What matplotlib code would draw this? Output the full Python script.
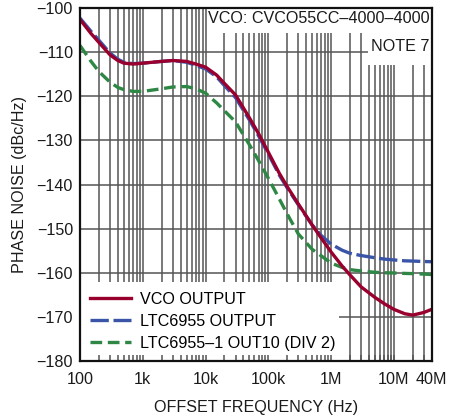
import matplotlib
matplotlib.use("Agg")
import matplotlib.pyplot as plt
from matplotlib.patches import Rectangle
from matplotlib.ticker import LogLocator, NullFormatter

plt.rcParams['font.family'] = ['Liberation Sans', 'DejaVu Sans']

# offset frequency (Hz)
freq = [100, 150, 200, 300, 400, 500, 700, 1e3, 2e3, 3e3, 5e3, 7e3, 1e4, 1.5e4, 2e4,
        3e4, 5e4, 7e4, 1e5, 1.5e5, 2e5, 3e5, 5e5, 7e5, 1e6, 1.5e6, 2e6, 3e6, 5e6,
        7e6, 1e7, 1.5e7, 2e7, 3e7, 4e7]

# phase noise (dBc/Hz)
vco_out = [-102.6, -105.8, -107.8, -110.6, -111.9, -112.5, -112.7, -112.5, -112.1,
           -111.9, -112.1, -112.7, -113.4, -115.2, -117.1, -119.7, -124.9, -128.5,
           -132.7, -137.5, -140.5, -144.4, -149.2, -152.2, -155.3, -158.5, -160.5,
           -163.2, -165.6, -167.0, -168.3, -169.3, -169.6, -169.0, -168.3]
ltc6955_out = [-102.3, -105.3, -107.3, -110.2, -111.6, -112.3, -112.6, -112.5, -112.1,
               -111.9, -112.3, -113.0, -113.8, -115.6, -117.6, -120.3, -125.4, -129.0,
               -133.1, -137.9, -140.8, -144.6, -149.2, -151.6, -153.5, -154.9, -155.6,
               -156.1, -156.6, -156.9, -157.1, -157.3, -157.35, -157.45, -157.5]
ltc6955_1_div2 = [-108.5, -112.1, -114.4, -116.8, -118.0, -118.5, -118.9, -118.9, -118.3,
                  -117.9, -117.8, -118.3, -119.3, -121.5, -123.3, -125.8, -131.0, -134.6,
                  -138.6, -143.3, -146.7, -151.2, -154.7, -156.2, -157.8, -158.8, -159.3,
                  -159.6, -159.9, -160.0, -160.05, -160.15, -160.2, -160.3, -160.4]

xticks = [100, 1e3, 1e4, 1e5, 1e6, 1e7, 4e7]
xticklabels = ['100', '1k', '10k', '100k', '1M', '10M', '40M']
yticks = list(range(-180, -99, 10))

fs = 11.6
txt_col = '#1a1a1a'

fig = plt.figure(figsize=(4.5, 4.19), dpi=100)
pos = [80 / 450, 1 - 361 / 419, (431.7 - 80) / 450, (361 - 8) / 419]
ax = fig.add_axes(pos)

ax.set_xscale('log')
ax.set_xlim(100, 4e7)
ax.set_ylim(-180, -100)

grid_col = '#555555'
ax.grid(True, which='both', axis='x', color=grid_col, linewidth=1.1)
ax.grid(True, which='major', axis='y', color=grid_col, linewidth=1.1)
ax.xaxis.set_minor_locator(LogLocator(base=10, subs=range(2, 10), numticks=20))
ax.xaxis.set_minor_formatter(NullFormatter())
ax.set_xticks(xticks)
ax.set_xticklabels(xticklabels)
ax.set_yticks(yticks)
ax.tick_params(which='both', length=0, labelsize=fs, colors=txt_col)
ax.tick_params(axis='x', pad=8)
ax.tick_params(axis='y', pad=5)
for s in ax.spines.values():
    s.set_visible(False)

# white boxes over the grid
ax.add_patch(Rectangle((0, 0), 0.736, 0.225, transform=ax.transAxes,
                       facecolor='white', edgecolor='none', zorder=1.8))
ax.add_patch(Rectangle((0.36, 0.929), 0.65, 0.075, transform=ax.transAxes,
                       facecolor='white', edgecolor='none', zorder=1.8))
ax.add_patch(Rectangle((0.819, 0.838), 0.19, 0.1, transform=ax.transAxes,
                       facecolor='white', edgecolor='none', zorder=1.8))

ax.plot(freq, ltc6955_out, color='#3a55a8', linewidth=2.4, dashes=(5.5, 1.4),
        label='LTC6955 OUTPUT', zorder=3)
ax.plot(freq, ltc6955_1_div2, color='#2e8744', linewidth=2.4, dashes=(3.5, 1.7),
        label='LTC6955\u20131 OUT10 (DIV 2)', zorder=3)
ax.plot(freq, vco_out, color='#99002e', linewidth=2.4, label='VCO OUTPUT', zorder=4)

handles, labels = ax.get_legend_handles_labels()
order = [2, 0, 1]
leg = ax.legend([handles[i] for i in order], [labels[i] for i in order],
                loc='lower left', bbox_to_anchor=(0.0, 0.0), frameon=False,
                fontsize=fs, handlelength=2.5, handletextpad=0.6,
                labelspacing=0.42, borderaxespad=0.25)
leg.set_zorder(5)

ax.text(0.994, 0.992, 'VCO: CVCO55CC\u20134000\u20134000', transform=ax.transAxes,
        ha='right', va='top', fontsize=fs, color=txt_col, zorder=6)
ax.text(0.994, 0.89, 'NOTE 7', transform=ax.transAxes,
        ha='right', va='center', fontsize=fs, color=txt_col, zorder=6)

ax.set_xlabel('OFFSET FREQUENCY (Hz)', fontsize=fs, color=txt_col, labelpad=9)
ax.set_ylabel('PHASE NOISE (dBc/Hz)', fontsize=fs, color=txt_col, labelpad=7)

# overlay axes for frame and bottom ticks
ov = fig.add_axes(pos, zorder=10)
ov.patch.set_visible(False)
ov.set_xscale('log')
ov.set_xlim(100, 4e7)
ov.set_ylim(-180, -100)
ov.xaxis.set_minor_locator(LogLocator(base=10, subs=range(2, 10), numticks=20))
ov.xaxis.set_minor_formatter(NullFormatter())
ov.set_xticks(xticks[:-1])
ov.set_xticklabels([])
ov.set_yticks([])
ov.tick_params(axis='x', which='both', direction='in', length=4, width=1.1,
               color=grid_col, labelbottom=False)
for s in ov.spines.values():
    s.set_linewidth(1.6)
    s.set_color('#111111')

fig.savefig('out.png', dpi=100)
